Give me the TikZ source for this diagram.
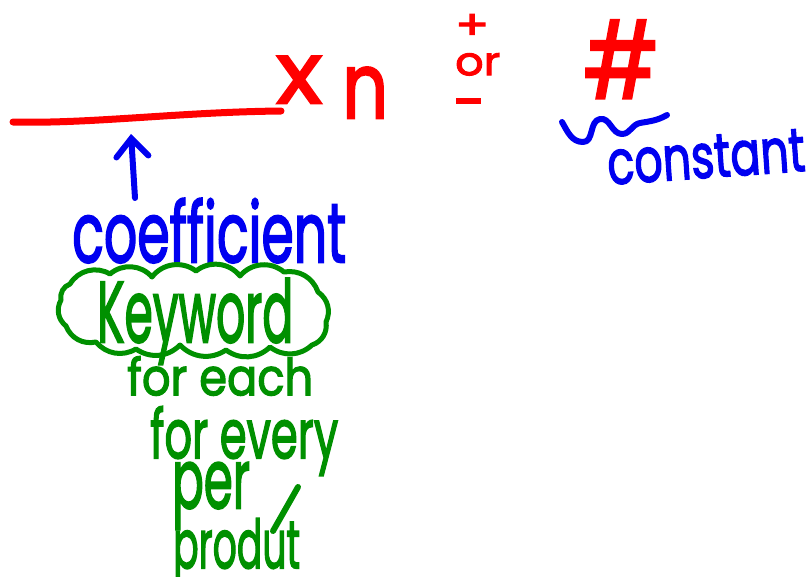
\documentclass[tikz,border=0pt]{standalone}
\usepackage{fontspec}
\setmainfont{Poppins}[FakeBold=2.5]
\usepackage{xcolor}
\definecolor{inkRed}{HTML}{FF0000}
\definecolor{inkBlue}{HTML}{0000F0}
\definecolor{inkGreen}{HTML}{009000}
\usepackage{tikz}
\usetikzlibrary{arrows.meta}
\newcommand{\sized}[3]{\resizebox{#1pt}{#2pt}{#3}}
\tikzset{
  ink/.style={
    inner sep=0pt,
    anchor=north west
  },
  redink/.style={ink, text=inkRed},
  blueink/.style={ink, text=inkBlue},
  greenink/.style={ink, text=inkGreen},
  marker/.style={
    line width=6pt,
    line cap=round,
    line join=round
  },
  pointer/.style={
    marker,
    draw=inkBlue,
    -{Straight Barb[length=18pt,width=32pt,line cap=round]}
  }
}
\begin{document}
\begin{tikzpicture}[x=1pt,y=-1pt]
  \useasboundingbox[fill=white] (0,0) rectangle (810,576);
  % blank for the coefficient
  \coordinate (blankleft) at (13,122);
  \coordinate (blankright) at (281,111);
  \draw[marker,draw=inkRed,line width=7pt] (blankleft) .. controls (90,124) and (180,112) .. (blankright);
  % x n + or - #
  \node[redink] (xvar) at (276,56) {\sized{46}{47}{x}};
  \node[redink] (nvar) at (342,67) {\sized{46}{51}{n}};
  \node[redink] (plus) at (455,14) {\sized{34}{25}{+}};
  \node[redink] (orword) at (455,53) {\sized{45}{22}{or}};
  \node[redink] (minus) at (456,98) {\sized{25}{6}{\rule{1em}{1ex}}};
  \node[redink] (hash) at (583,20) {\sized{76}{78}{\#}};
  % constant
  \node[blueink,rotate=4,anchor=center] (constant) at (706,157) {\sized{198}{42}{constant}};
  \coordinate (wigstart) at (562,122);
  \coordinate (wigend) at (667,115);
  \draw[marker,draw=inkBlue] (wigstart) to[out=-60,in=180] (583,142) to[out=0,in=-170] (600,119)
    to[out=10,in=180] (622,134) to[out=0,in=-170] (640,123) to[out=10,in=-150] (wigend);
  % coefficient
  \node[blueink] (coef) at (72,198) {\sized{274}{64}{coefficient}};
  \coordinate (arrowtop) at (131,134);
  \draw[pointer] (coef.north -| 135,0) -- (arrowtop);
  % keywords
  \node[greenink] (keyword) at (97,278) {\sized{196}{64}{Keyword}};
  \draw[marker,draw=inkGreen,line width=5pt]
    (70,284) to[bend left=45] (110,274) to[bend left=45] (152,277) to[bend left=45] (196,271)
    to[bend left=45] (240,276) to[bend left=45] (284,272) to[bend left=40] (318,292)
    to[bend left=40] (326,322) to[bend left=40] (312,345) to[bend left=40] (270,347)
    to[bend left=40] (226,350) to[bend left=40] (180,345) to[bend left=40] (136,349)
    to[bend left=40] (96,342) to[bend left=40] (66,326) to[bend left=40] (61,300)
    to[bend left=40] cycle;
  \node[greenink] (foreach) at (127,356) {\sized{186}{39}{for each}};
  \node[greenink] (forevery) at (150,406) {\sized{188}{52}{for every}};
  \node[greenink] (per) at (172,462) {\sized{78}{46}{per}};
  \node[greenink] (product) at (173,518) {\sized{127}{50}{produt}};
  \coordinate (slashtop) at (298,487);
  \coordinate (slashbottom) at (273,531);
  \draw[marker,draw=inkGreen] (slashtop) -- (slashbottom);
\end{tikzpicture}
\end{document}
